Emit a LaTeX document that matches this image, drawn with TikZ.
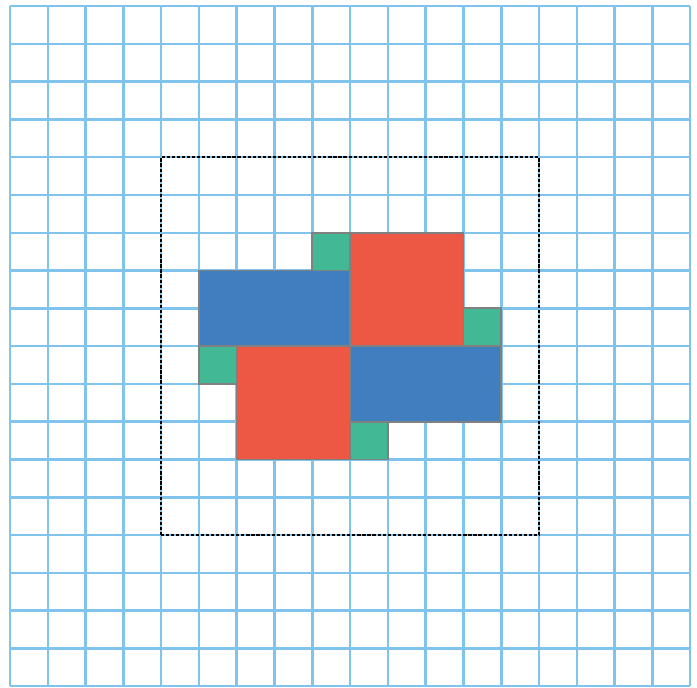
\documentclass[tikz,border=0pt]{standalone}
\usepackage{tikz}
\usetikzlibrary{calc}
\definecolor{gridB}{RGB}{128,196,238}
\definecolor{tileR}{RGB}{236,88,68}
\definecolor{tileB}{RGB}{64,126,192}
\definecolor{tileG}{RGB}{66,184,148}
\colorlet{edgeG}{black!50}
\tikzstyle{big}=[draw=edgeG, line width=1.4pt]
\tikzstyle{small}=[fill=tileG, draw=edgeG, line width=1.4pt]

\begin{document}
\begin{tikzpicture}
	\useasboundingbox (-0.265,-0.03) rectangle (18.18,18.16);
	% squared paper
	\draw[gridB, line width=1.9pt] (0,0) grid (18,18);
	% frame
	\draw[black, line width=1.2pt, dash pattern=on 2.4pt off 1.4pt] (4,4) rectangle (14,14);

	% big tiles
	\filldraw[big, fill=tileB] (5,9) rectangle (9,11);
	\filldraw[big, fill=tileR] (9,9) rectangle (12,12);
	\filldraw[big, fill=tileB] (9,7) rectangle (13,9);
	\filldraw[big, fill=tileR] (6,6) rectangle (9,9);

	% small squares
	\foreach \x/\y in {8/11, 12/9, 9/6, 5/8}{ \filldraw[small] (\x,\y) rectangle ++(1,1); }
\end{tikzpicture}
\end{document}
